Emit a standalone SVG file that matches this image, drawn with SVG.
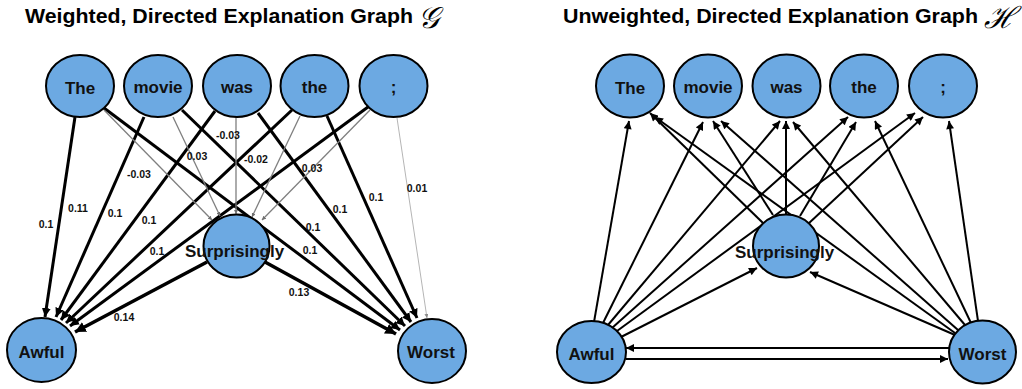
<svg xmlns="http://www.w3.org/2000/svg" width="1022" height="389" viewBox="0 0 1022 389">
  <style>
    .title { font-family: "Liberation Sans", Arial, sans-serif; font-weight: bold; font-size: 21px; fill: #000; }
    .script { font-family: "DejaVu Serif", "Liberation Serif", serif; font-style: italic; font-size: 30px; fill: #000; }
    .node ellipse { fill: #6CA9E2; stroke: #000; stroke-width: 2; }
    .node text { font-family: "Liberation Sans", Arial, sans-serif; font-weight: bold; font-size: 17px; fill: #111; text-anchor: middle; }
    .w { font-family: "Liberation Sans", Arial, sans-serif; font-weight: bold; font-size: 10.5px; fill: #111; text-anchor: middle; }
    .thick { stroke: #000; stroke-width: 3; fill: none; marker-end: url(#ahThick); }
    .heavy { stroke: #000; stroke-width: 3.6; fill: none; marker-end: url(#ahThick); }
    .thin { stroke: #7f7f7f; stroke-width: 1.3; fill: none; marker-end: url(#ahGray); }
    .faint { stroke: #b5b5b5; stroke-width: 1; fill: none; marker-end: url(#ahFaint); }
    .plain { stroke: #000; stroke-width: 2; fill: none; marker-end: url(#ah); }
  </style>
  <defs>
    <marker id="ahThick" viewBox="0 0 10 10" refX="10" refY="5" markerWidth="3" markerHeight="3" markerUnits="strokeWidth" orient="auto">
      <path d="M0,0 L10,5 L0,10 z" fill="#000"/>
    </marker>
    <marker id="ahGray" viewBox="0 0 10 10" refX="10" refY="5" markerWidth="3.2" markerHeight="3.2" markerUnits="strokeWidth" orient="auto">
      <path d="M0,0 L10,5 L0,10 z" fill="#6f6f6f"/>
    </marker>
    <marker id="ahFaint" viewBox="0 0 10 10" refX="10" refY="5" markerWidth="4" markerHeight="4" markerUnits="strokeWidth" orient="auto">
      <path d="M0,0 L10,5 L0,10 z" fill="#8a8a8a"/>
    </marker>
    <marker id="ah" viewBox="0 0 10 10" refX="10" refY="5" markerWidth="9" markerHeight="8" markerUnits="userSpaceOnUse" orient="auto">
      <path d="M0,0 L10,5 L0,10 z" fill="#000"/>
    </marker>
  </defs>

  <rect width="1022" height="389" fill="#fff"/>

  <!-- Titles -->
  <text class="title" x="25" y="23" textLength="388" lengthAdjust="spacingAndGlyphs">Weighted, Directed Explanation Graph</text>
  <text class="script" x="418" y="28">𝒢</text>
  <text class="title" x="563" y="23" textLength="415" lengthAdjust="spacingAndGlyphs">Unweighted, Directed Explanation Graph</text>
  <text class="script" x="984" y="28">ℋ</text>

  <!-- Weighted graph: connectors -->
  <g id="weighted-edges">
    <line class="thick" x1="75" y1="117" x2="45" y2="317"/>
    <line class="thick" x1="144" y1="117" x2="56" y2="317"/>
    <line class="thick" x1="215" y1="111" x2="61" y2="320"/>
    <line class="thick" x1="292" y1="110" x2="66" y2="323"/>
    <line class="thick" x1="368" y1="107" x2="70" y2="326"/>
    <line class="heavy" x1="207" y1="262" x2="75" y2="332"/>
    <line class="thick" x1="104" y1="108" x2="400" y2="330"/>
    <line class="thick" x1="182" y1="110" x2="405" y2="326"/>
    <line class="thick" x1="258" y1="113" x2="411" y2="322"/>
    <line class="thick" x1="327" y1="116" x2="417" y2="318"/>
    <line class="heavy" x1="265" y1="262" x2="396" y2="334"/>
    <line class="thin" x1="104" y1="110" x2="212" y2="220"/>
    <line class="thin" x1="173" y1="117" x2="220" y2="216"/>
    <line class="thin" x1="236" y1="117" x2="236" y2="214"/>
    <line class="thin" x1="300" y1="116" x2="252" y2="217"/>
    <line class="thin" x1="370" y1="110" x2="262" y2="220"/>
    <line class="faint" x1="397" y1="118" x2="427" y2="318"/>
    <!-- edge weights -->
    <text class="w" x="46" y="228">0.1</text>
    <text class="w" x="78" y="212">0.11</text>
    <text class="w" x="115" y="217">0.1</text>
    <text class="w" x="149" y="224">0.1</text>
    <text class="w" x="157" y="255">0.1</text>
    <text class="w" x="124" y="321">0.14</text>
    <text class="w" x="139" y="178">-0.03</text>
    <text class="w" x="197" y="160">0.03</text>
    <text class="w" x="228" y="139">-0.03</text>
    <text class="w" x="256" y="163">-0.02</text>
    <text class="w" x="312" y="172">0.03</text>
    <text class="w" x="417" y="192">0.01</text>
    <text class="w" x="376" y="201">0.1</text>
    <text class="w" x="340" y="213">0.1</text>
    <text class="w" x="313" y="231">0.1</text>
    <text class="w" x="310" y="254">0.1</text>
    <text class="w" x="299" y="296">0.13</text>
  </g>

  <!-- Weighted graph: nodes -->
  <g id="g-the" class="node"><ellipse cx="80" cy="86" rx="34" ry="31"/><text x="80" y="94">The</text></g>
  <g id="g-movie" class="node"><ellipse cx="158" cy="86" rx="34" ry="31"/><text x="158" y="93">movie</text></g>
  <g id="g-was" class="node"><ellipse cx="237" cy="86" rx="34" ry="31"/><text x="237" y="93">was</text></g>
  <g id="g-the2" class="node"><ellipse cx="314.5" cy="86" rx="34" ry="31"/><text x="314.5" y="93">the</text></g>
  <g id="g-semicolon" class="node"><ellipse cx="393.5" cy="86" rx="34" ry="31"/><text x="393.5" y="93">;</text></g>
  <g id="g-surprisingly" class="node"><ellipse cx="236.5" cy="246" rx="33" ry="31.5"/><text x="234.5" y="257">Surprisingly</text></g>
  <g id="g-awful" class="node"><ellipse cx="41.5" cy="350" rx="34.5" ry="32"/><text x="41.5" y="358">Awful</text></g>
  <g id="g-worst" class="node"><ellipse cx="432" cy="351" rx="34" ry="32"/><text x="431" y="358">Worst</text></g>

  <!-- Unweighted graph: connectors -->
  <g id="unweighted-edges">
    <line class="plain" x1="594" y1="322" x2="629" y2="121"/>
    <line class="plain" x1="603" y1="323" x2="703" y2="122"/>
    <line class="plain" x1="608" y1="325" x2="780" y2="121"/>
    <line class="plain" x1="612" y1="328" x2="848" y2="117"/>
    <line class="plain" x1="617" y1="331" x2="915" y2="113"/>
    <line class="plain" x1="621" y1="337" x2="757" y2="268"/>
    <line class="plain" x1="764" y1="224" x2="650" y2="113"/>
    <line class="plain" x1="773" y1="215" x2="713" y2="121"/>
    <line class="plain" x1="786" y1="215" x2="786" y2="121"/>
    <line class="plain" x1="800" y1="216" x2="856" y2="122"/>
    <line class="plain" x1="808" y1="224" x2="923" y2="117"/>
    <line class="plain" x1="955" y1="333" x2="655" y2="117"/>
    <line class="plain" x1="958" y1="330" x2="721" y2="121"/>
    <line class="plain" x1="965" y1="325" x2="793" y2="122"/>
    <line class="plain" x1="971" y1="323" x2="875" y2="121"/>
    <line class="plain" x1="978" y1="321" x2="949" y2="121"/>
    <line class="plain" x1="955" y1="335" x2="810" y2="272"/>
    <line class="plain" x1="949" y1="348" x2="626" y2="348"/>
    <line class="plain" x1="626" y1="359" x2="948" y2="359"/>
  </g>

  <!-- Unweighted graph: nodes -->
  <g id="h-the" class="node"><ellipse cx="630" cy="86" rx="34" ry="31.5"/><text x="630" y="94">The</text></g>
  <g id="h-movie" class="node"><ellipse cx="708" cy="86" rx="34" ry="31.5"/><text x="708" y="93">movie</text></g>
  <g id="h-was" class="node"><ellipse cx="786.5" cy="86" rx="34" ry="31.5"/><text x="786.5" y="93">was</text></g>
  <g id="h-the2" class="node"><ellipse cx="864" cy="86" rx="34" ry="31.5"/><text x="864" y="93">the</text></g>
  <g id="h-semicolon" class="node"><ellipse cx="943" cy="86" rx="34" ry="31.5"/><text x="943" y="93">;</text></g>
  <g id="h-surprisingly" class="node"><ellipse cx="786" cy="246" rx="33" ry="31.5"/><text x="784.5" y="258">Surprisingly</text></g>
  <g id="h-awful" class="node"><ellipse cx="591.5" cy="352" rx="34.5" ry="31"/><text x="591.5" y="360">Awful</text></g>
  <g id="h-worst" class="node"><ellipse cx="982.5" cy="352" rx="33.5" ry="31.5"/><text x="982.5" y="360">Worst</text></g>
</svg>
